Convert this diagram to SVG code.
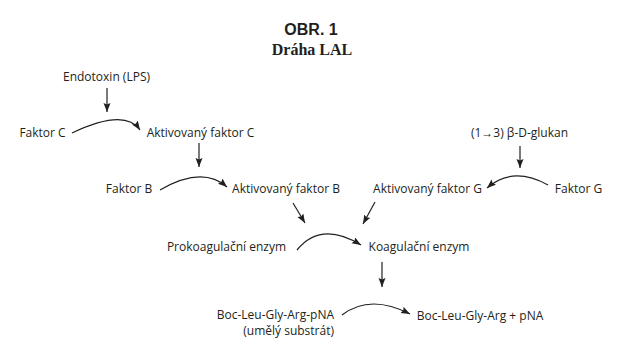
<svg xmlns="http://www.w3.org/2000/svg" width="623" height="363" viewBox="0 0 623 363">
<defs>
<marker id="ah" markerUnits="userSpaceOnUse" markerWidth="11" markerHeight="8" refX="9" refY="3.5" orient="auto">
<path d="M0,0 L9,3.5 L0,7 L1.5,3.5 Z" fill="#231f20"/>
</marker>
<style>
.t{font-family:"Open Sans","Liberation Sans",sans-serif;font-size:12px;fill:#231f20;text-anchor:middle}
.c{fill:none;stroke:#231f20;stroke-width:1.2;marker-end:url(#ah)}
</style>
</defs>
<rect width="623" height="363" fill="#fff"/>
<g id="title">
<text x="311" y="35" style="font-family:'Liberation Sans',Arial,sans-serif;font-weight:bold;font-size:16px;fill:#231f20;text-anchor:middle">OBR. 1</text>
<text x="312" y="55" style="font-family:'Liberation Serif','Times New Roman',serif;font-weight:bold;font-size:16px;fill:#231f20;text-anchor:middle">Dráha LAL</text>
</g>
<g id="endotoxin"><text class="t" x="106.5" y="81">Endotoxin (LPS)</text></g>
<g id="faktorC"><text class="t" x="42.5" y="137">Faktor C</text></g>
<g id="aktivC"><text class="t" x="200.5" y="137">Aktivovaný faktor C</text></g>
<g id="glukan"><text class="t" x="519.5" y="137">(1→3) β-D-glukan</text></g>
<g id="faktorB"><text class="t" x="129" y="193">Faktor B</text></g>
<g id="aktivB"><text class="t" x="286" y="193">Aktivovaný faktor B</text></g>
<g id="aktivG"><text class="t" x="427.5" y="193">Aktivovaný faktor G</text></g>
<g id="faktorG"><text class="t" x="578.5" y="193">Faktor G</text></g>
<g id="prokoag"><text class="t" x="226.5" y="251">Prokoagulační enzym</text></g>
<g id="koag"><text class="t" x="419" y="251">Koagulační enzym</text></g>
<g id="substrat"><text class="t" x="334" y="319" style="text-anchor:end">Boc-Leu-Gly-Arg-pNA</text><text class="t" x="334" y="335" style="text-anchor:end">(umělý substrát)</text></g>
<g id="produkt"><text class="t" x="480" y="320">Boc-Leu-Gly-Arg + pNA</text></g>
<g id="connectors">
<path class="c" d="M107,88 L107,112"/>
<path class="c" d="M72,133 Q125,108 140,130"/>
<path class="c" d="M199,143 L199,167"/>
<path class="c" d="M160,190 Q202.5,165.5 227,187"/>
<path class="c" d="M293,203 L305,223"/>
<path class="c" d="M375,202 L363,224"/>
<path class="c" d="M520,146 L520,168"/>
<path class="c" d="M548,185 Q512.5,165.5 487,188"/>
<path class="c" d="M297,250 Q321,220.5 361,245"/>
<path class="c" d="M382,262 L382,287"/>
<path class="c" d="M342,315 Q370,293.5 410,314"/>
</g>
</svg>
